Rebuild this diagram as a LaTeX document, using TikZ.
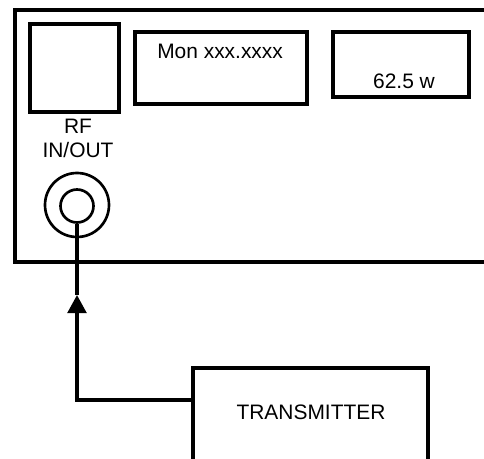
\documentclass[tikz,border=0pt]{standalone}
\usepackage{fontspec}
\setmainfont{Liberation Sans}
\usetikzlibrary{arrows.meta,calc}
\tikzstyle{panel}=[draw, line width=2.4pt, line join=miter]
\tikzstyle{panelbox}=[rectangle, draw, line width=2.4pt, inner sep=0pt]
\tikzstyle{ring}=[circle, draw, line width=2pt, inner sep=0pt]
\tikzstyle{lbl}=[inner sep=0pt, font=\fontsize{15.7}{18}\selectfont]
\tikzstyle{feed}=[line width=2.4pt]

\begin{document}
\begin{tikzpicture}[x=0.75pt,y=-0.75pt]
\clip (0,0) rectangle (484,458);
\fill[white] (0,0) rectangle (484,458);

% front panel, open to the right
\draw[panel] (490,10) -- (15,10) -- (15,262) -- (490,262);

\node[panelbox, minimum width=66.75pt, minimum height=66pt] (sq) at (74.5,68) {};
\node[panelbox, minimum width=129pt, minimum height=54pt] (mon) at (221,68) {};
\node[panelbox, minimum width=102pt, minimum height=48.75pt] (pwr) at (401,64.5) {};

\node[lbl, anchor=base west] (montxt) at (157,58) {Mon xxx.xxxx};
\node[lbl, anchor=base] (pwrtxt) at (404,88) {62.5 w};
\node[lbl, anchor=base, align=center] (rftxt) at (78,157) {RF\\IN/OUT};

\node[ring, minimum size=48pt] (jackout) at (77,205) {};
\node[ring, minimum size=24.75pt] (jack) at (77,206) {};

\node[panelbox, minimum width=176.25pt, minimum height=84pt] (tx) at (310.5,424) {};
\node[lbl, anchor=base] (txtxt) at (311,419) {TRANSMITTER};

\coordinate (bend) at (77,400);
\coordinate (tip) at (77,295);
\draw[feed, -{Triangle[width=14pt,length=13.5pt]}] (bend -| tx.west) -- (bend) -- (tip);
\draw[feed] (tip) -- (jack.south);

\end{tikzpicture}
\end{document}
